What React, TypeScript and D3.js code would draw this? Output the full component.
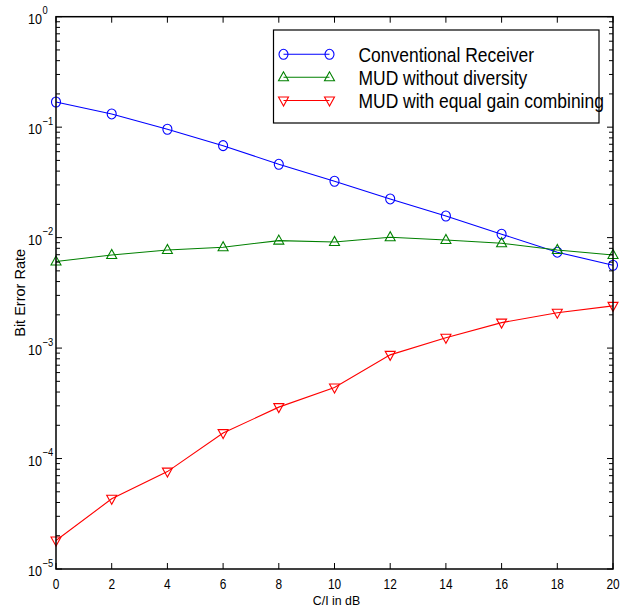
import React from "react";
import * as d3 from "d3";

const xValues = [0, 2, 4, 6, 8, 10, 12, 14, 16, 18, 20];
const conventional = [0.169, 0.1317, 0.0957, 0.068, 0.0461, 0.0324, 0.0224, 0.0157, 0.01074, 0.00738, 0.00562];
const mudNoDiversity = [0.00607, 0.00697, 0.00773, 0.00819, 0.0094, 0.00914, 0.01009, 0.00953, 0.0089, 0.00773, 0.00697];
const mudEgc = [1.81e-5, 4.32e-5, 7.62e-5, 1.7e-4, 2.92e-4, 4.39e-4, 8.68e-4, 1.24e-3, 1.7e-3, 2.09e-3, 2.41e-3];
const xTicks = [0, 2, 4, 6, 8, 10, 12, 14, 16, 18, 20];
const yExponents = [0, -1, -2, -3, -4, -5];
const seriesNames = ["Conventional Receiver", "MUD without diversity", "MUD with equal gain combining"];

const W = 634, H = 610;
const L = 56, R = 613, T = 16.7, B = 569;
const FONT = "'Liberation Sans', Arial, Helvetica, sans-serif";

function Marker({ kind, x, y, color }: { kind: string; x: number; y: number; color: string }) {
  if (kind === "circle") {
    return <ellipse cx={x} cy={y} rx={4.5} ry={5} fill="none" stroke={color} strokeWidth={1.1} />;
  }
  if (kind === "up") {
    const p = `${x},${y - 5.5} ${x - 5},${y + 3.5} ${x + 5},${y + 3.5}`;
    return <polygon points={p} fill="none" stroke={color} strokeWidth={1.1} />;
  }
  const p = `${x},${y + 5.5} ${x - 5},${y - 3.5} ${x + 5},${y - 3.5}`;
  return <polygon points={p} fill="none" stroke={color} strokeWidth={1.1} />;
}

export default function App() {
  const x = d3.scaleLinear().domain([0, 20]).range([L, R]);
  const y = d3.scaleLog().domain([1e-5, 1]).range([B, T]);

  const series = [
    { name: seriesNames[0], values: conventional, color: "#0000ff", marker: "circle" },
    { name: seriesNames[1], values: mudNoDiversity, color: "#008000", marker: "up" },
    { name: seriesNames[2], values: mudEgc, color: "#ff0000", marker: "down" },
  ];

  const line = d3
    .line<number>()
    .x((_, i) => x(xValues[i]))
    .y((d) => y(d));

  const minorTicks: number[] = [];
  for (let e = -5; e < 0; e++) {
    for (let m = 2; m <= 9; m++) minorTicks.push(m * Math.pow(10, e));
  }

  const legX = 273.5, legY = 30, legW = 325.5, legH = 93;
  const legRows = [54.3, 77.3, 100.5];

  return (
    <div style={{ position: "absolute", left: 0, top: 0 }}>
      <svg width={W} height={H} style={{ display: "block", background: "#fff" }} fontFamily={FONT}>
        <rect x={0} y={0} width={W} height={H} fill="#fff" />
        {/* series */}
        {series.map((s) => (
          <g key={s.name}>
            <path d={line(s.values) || ""} fill="none" stroke={s.color} strokeWidth={1.1} />
            {s.values.map((v, i) => (
              <Marker key={i} kind={s.marker} x={x(xValues[i])} y={y(v)} color={s.color} />
            ))}
          </g>
        ))}
        {/* x ticks */}
        {xTicks.map((t) => (
          <g key={"xt" + t}>
            <line x1={x(t)} x2={x(t)} y1={B} y2={B - 6} stroke="#000" strokeWidth={1} />
            <line x1={x(t)} x2={x(t)} y1={T} y2={T + 6} stroke="#000" strokeWidth={1} />
            <text
              transform={`translate(${x(t)},588.5) scale(0.82,1)`}
              textAnchor="middle"
              fontSize={14.5}
              fill="#000"
            >
              {t}
            </text>
          </g>
        ))}
        {/* y major ticks */}
        {yExponents.map((e) => {
          const yy = y(Math.pow(10, e));
          return (
            <g key={"ye" + e}>
              <line x1={L} x2={L + 6} y1={yy} y2={yy} stroke="#000" strokeWidth={1} />
              <line x1={R} x2={R - 6} y1={yy} y2={yy} stroke="#000" strokeWidth={1} />
              <text
                transform={`translate(42,${yy + 7}) scale(0.84,1)`}
                textAnchor="end"
                fontSize={15}
                fill="#000"
              >
                10
              </text>
              <text
                transform={`translate(42.5,${yy - 2.5}) scale(0.85,1)`}
                textAnchor="start"
                fontSize={11}
                fill="#000"
              >
                {e === 0 ? "0" : "\u2212" + String(-e)}
              </text>
            </g>
          );
        })}
        {/* y minor ticks */}
        {minorTicks.map((v, i) => (
          <g key={"ym" + i}>
            <line x1={L} x2={L + 4} y1={y(v)} y2={y(v)} stroke="#000" strokeWidth={1} />
            <line x1={R} x2={R - 4} y1={y(v)} y2={y(v)} stroke="#000" strokeWidth={1} />
          </g>
        ))}
        {/* frame */}
        <rect x={L} y={T} width={R - L} height={B - T} fill="none" stroke="#000" strokeWidth={1.5} />
        {/* axis labels */}
        <text
          transform={`translate(${(L + R) / 2 + 2},604.5) scale(0.95,1)`}
          textAnchor="middle"
          fontSize={13}
          fill="#000"
        >
          C/I in dB
        </text>
        <text
          transform={`translate(25,${(T + B) / 2}) rotate(-90)`}
          textAnchor="middle"
          fontSize={14.5}
          fill="#000"
        >
          Bit Error Rate
        </text>
        {/* legend */}
        <rect x={legX} y={legY} width={legW} height={legH} fill="#fff" stroke="#000" strokeWidth={1.2} />
        {series.map((s, i) => (
          <g key={"leg" + i}>
            <line x1={283.5} x2={329.5} y1={legRows[i]} y2={legRows[i]} stroke={s.color} strokeWidth={1.1} />
            <Marker kind={s.marker} x={283.5} y={legRows[i]} color={s.color} />
            <Marker kind={s.marker} x={329.5} y={legRows[i]} color={s.color} />
            <text
              transform={`translate(358.5,${legRows[i] + 7.5}) scale(0.895,1)`}
              fontSize={19.5}
              fill="#000"
            >
              {s.name}
            </text>
          </g>
        ))}
      </svg>
    </div>
  );
}
